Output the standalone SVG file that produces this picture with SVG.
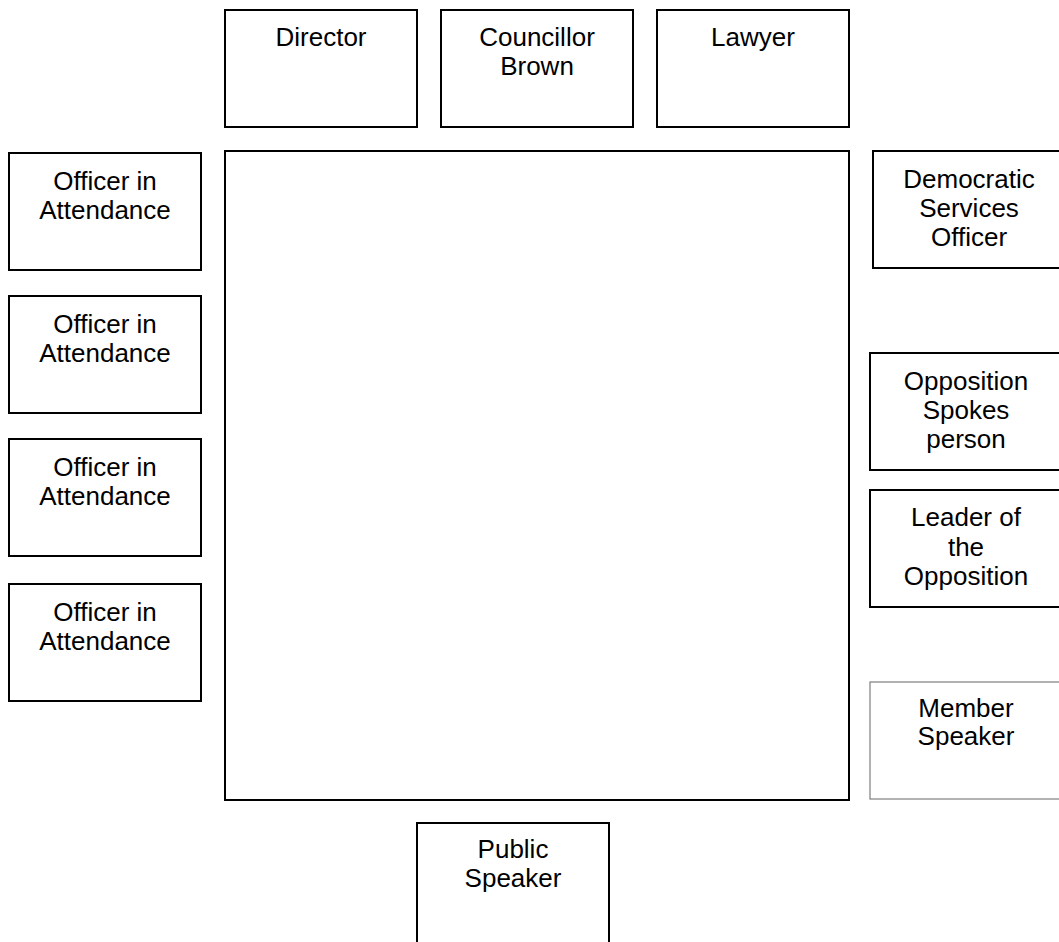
<svg xmlns="http://www.w3.org/2000/svg" width="1059" height="942" viewBox="0 0 1059 942">
<style>
.box{fill:#fff;stroke:#000;stroke-width:2}
.thin{fill:#fff;stroke:#7f7f7f;stroke-width:1.2}
.t{font-family:"Liberation Sans",Arial,sans-serif;font-size:26px;fill:#000;text-anchor:middle}
</style>
<rect width="1059" height="942" fill="#fff"/>
<g id="table"><rect class="box" x="225" y="151" width="624" height="649"/></g>
<g id="director"><rect class="box" x="225" y="10" width="192" height="117"/><text class="t" x="321" y="46">Director</text></g>
<g id="councillor-brown"><rect class="box" x="441" y="10" width="192" height="117"/><text class="t" x="537" y="46">Councillor</text><text class="t" x="537" y="75">Brown</text></g>
<g id="lawyer"><rect class="box" x="657" y="10" width="192" height="117"/><text class="t" x="753" y="46">Lawyer</text></g>
<g id="officer1"><rect class="box" x="9" y="153" width="192" height="117"/><text class="t" x="105" y="190">Officer in</text><text class="t" x="105" y="219">Attendance</text></g>
<g id="officer2"><rect class="box" x="9" y="296" width="192" height="117"/><text class="t" x="105" y="333">Officer in</text><text class="t" x="105" y="362">Attendance</text></g>
<g id="officer3"><rect class="box" x="9" y="439" width="192" height="117"/><text class="t" x="105" y="476">Officer in</text><text class="t" x="105" y="505">Attendance</text></g>
<g id="officer4"><rect class="box" x="9" y="584" width="192" height="117"/><text class="t" x="105" y="621">Officer in</text><text class="t" x="105" y="650">Attendance</text></g>
<g id="dso"><rect class="box" x="873" y="151" width="192" height="117"/><text class="t" x="969" y="188">Democratic</text><text class="t" x="969" y="217">Services</text><text class="t" x="969" y="246">Officer</text></g>
<g id="opp-spokes"><rect class="box" x="870" y="353" width="192" height="117"/><text class="t" x="966" y="390">Opposition</text><text class="t" x="966" y="419">Spokes</text><text class="t" x="966" y="448">person</text></g>
<g id="leader-opp"><rect class="box" x="870" y="490" width="192" height="117"/><text class="t" x="966" y="526">Leader of</text><text class="t" x="966" y="556">the</text><text class="t" x="966" y="585">Opposition</text></g>
<g id="member-speaker"><rect class="thin" x="870" y="682" width="192" height="117"/><text class="t" x="966" y="717">Member</text><text class="t" x="966" y="745">Speaker</text></g>
<g id="public-speaker"><rect class="box" x="417" y="823" width="192" height="125"/><text class="t" x="513" y="858">Public</text><text class="t" x="513" y="887">Speaker</text></g>
<g id="connectors"></g>
</svg>
